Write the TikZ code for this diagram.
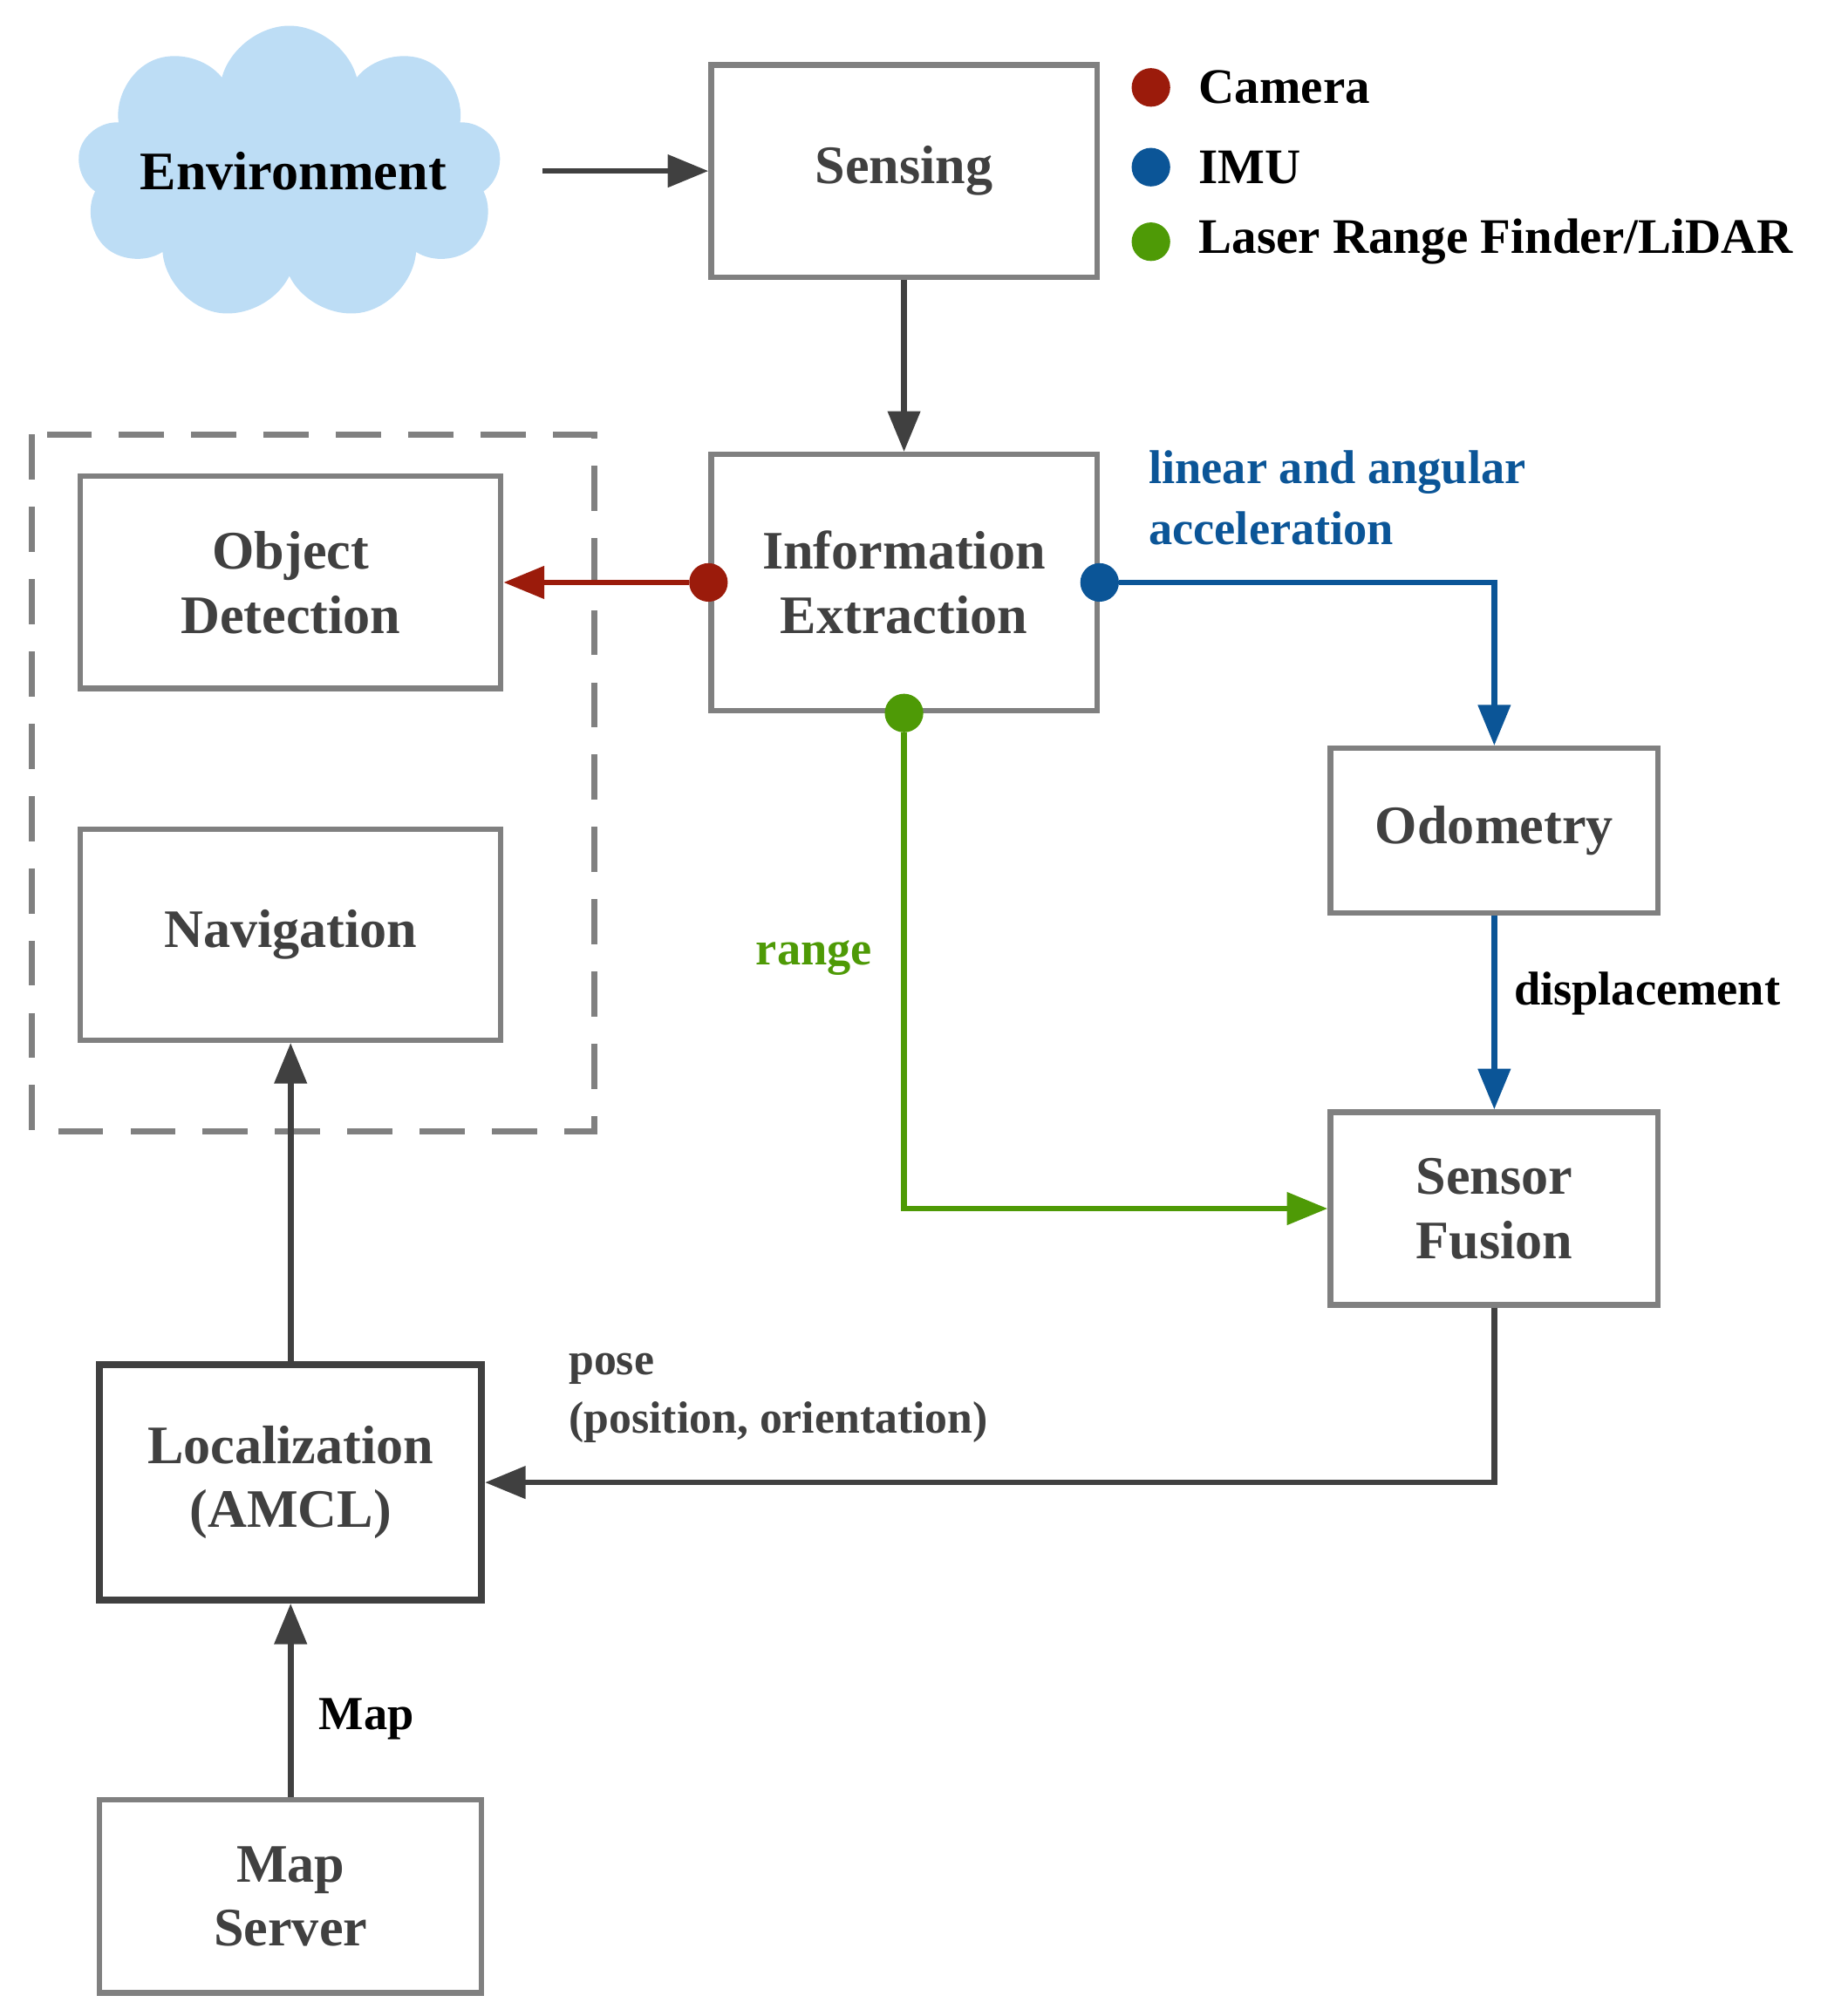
\documentclass[tikz,border=0pt]{standalone}
\usepackage{fontspec}
\setmainfont{Liberation Serif}
\usetikzlibrary{shapes.symbols,arrows.meta}
\definecolor{bx}{HTML}{808080}
\definecolor{ar}{HTML}{404040}
\definecolor{cred}{HTML}{9B1B0B}
\definecolor{cblue}{HTML}{0B5597}
\definecolor{cgreen}{HTML}{4E9A06}
\definecolor{cloudc}{HTML}{BDDDF5}
\begin{document}
\begin{tikzpicture}[x=0.02cm,y=-0.02cm,
  box/.style={draw=bx,line width=2.4pt,inner sep=0pt,align=center,text=ar,font=\fontsize{24}{28.5}\selectfont\bfseries},
  lbl/.style={font=\fontsize{21}{26}\selectfont\bfseries,align=left,inner sep=0pt},
  arr/.style={line width=2.6pt,draw=ar,-{Triangle[length=18pt,width=14pt]}},
  dot/.style={circle,fill=#1,inner sep=0pt,minimum size=0.6cm}]
\useasboundingbox (0,0) rectangle (1416,1568);
\node[cloud,cloud puffs=9,aspect=1.5,fill=cloudc,draw=none,minimum width=6.6cm,minimum height=4.6cm] (env) at (225,135) {};
\node[font=\fontsize{24}{28}\selectfont\bfseries] (envt) at (228,133) {Environment};
\node[box,minimum width=6cm,minimum height=3.3cm] (sens) at (703,133) {Sensing};
\node[box,minimum width=6cm,minimum height=3.98cm] (info) at (703,453) {Information\\Extraction};
\node[box,minimum width=6.54cm,minimum height=3.3cm] (obj) at (226,453) {Object\\Detection};
\node[box,minimum width=6.54cm,minimum height=3.28cm] (nav) at (226,727) {Navigation};
\node[box,minimum width=5.1cm,minimum height=2.56cm] (odo) at (1162,646) {Odometry};
\node[box,minimum width=5.1cm,minimum height=3cm] (fus) at (1162,940) {Sensor\\Fusion};
\node[box,draw=ar,line width=3pt,minimum width=5.94cm,minimum height=3.66cm] (loc) at (226,1153) {Localization\\(AMCL)};
\node[box,minimum width=5.94cm,minimum height=3cm] (map) at (226,1475) {Map\\Server};
\draw[dashed,draw=bx,line width=2.6pt,dash pattern=on 20pt off 12pt] (25,338) rectangle (462,880);
% legend
\node[dot=cred] (l1) at (895,68) {};
\node[dot=cblue] (l2) at (895,130) {};
\node[dot=cgreen] (l3) at (895,188) {};
\node[lbl,anchor=west,font=\fontsize{22}{26}\selectfont\bfseries] (t1) at (932,68) {Camera};
\node[lbl,anchor=west,font=\fontsize{22}{26}\selectfont\bfseries] (t2) at (932,130) {IMU};
\node[lbl,anchor=west,font=\fontsize{22}{26}\selectfont\bfseries] (t3) at (932,188) {Laser Range Finder/LiDAR};
% arrows
\coordinate (ce) at (422,133);
\draw[arr] (ce) -- (sens.west);
\draw[arr] (sens.south) -- (info.north);
\node[dot=cred] (dr) at (info.west) {};
\node[dot=cblue] (db) at (info.east) {};
\node[dot=cgreen] (dg) at (info.south) {};
\draw[arr,draw=cred,fill=cred] (dr) -- (obj.east);
\draw[arr,draw=cblue] (db) -| (odo.north);
\draw[arr,draw=cblue] (odo.south) -- (fus.north);
\draw[arr,draw=cgreen] (dg) |- (fus.west);
\draw[arr] (fus.south) |- (loc.east);
\draw[arr] (loc.north) -- (nav.south);
\draw[arr] (map.north) -- (loc.south);
% labels
\node[lbl,anchor=north west,text=cblue,font=\fontsize{21}{27}\selectfont\bfseries] (la) at (893,350) {linear and angular\\acceleration};
\node[lbl,text=cgreen] (lr) at (633,745) {range};
\node[lbl,anchor=west] (ld) at (1177,773) {displacement};
\node[lbl,anchor=north west,text=ar,font=\fontsize{20}{26}\selectfont\bfseries] (lp) at (442,1052) {pose\\(position, orientation)};
\node[lbl] (lm) at (285,1337) {Map};
\end{tikzpicture}
\end{document}
